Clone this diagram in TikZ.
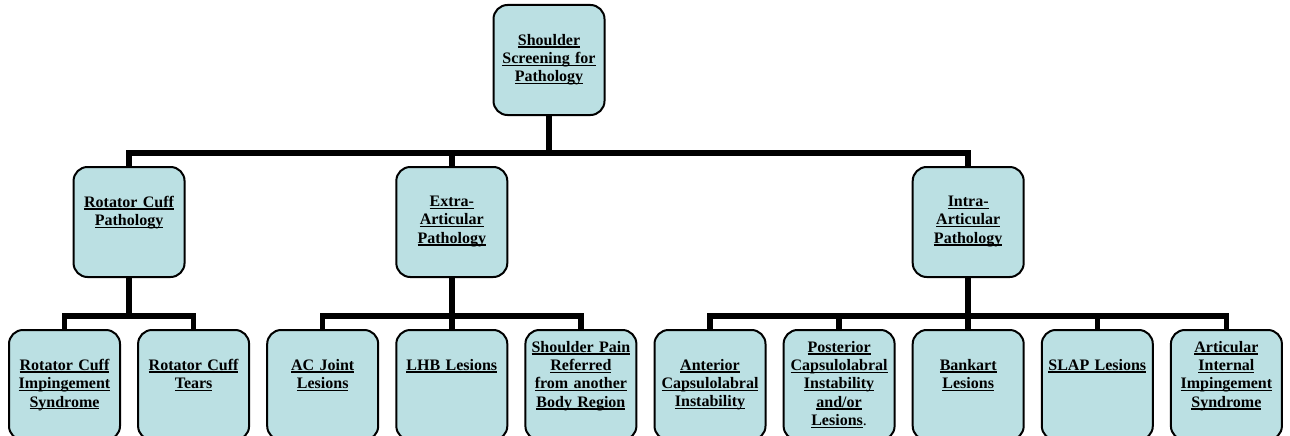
\documentclass[tikz,border=0pt]{standalone}
\usepackage{fontspec}
\setmainfont{Liberation Serif}
\definecolor{boxfill}{RGB}{187,224,227}
\newcommand\ulx[1]{\leavevmode\setbox0\hbox{#1}\rlap{\rule[-2.4pt]{\wd0}{1.4pt}}\box0}
\tikzset{
  box/.style={draw=black, line width=2pt, fill=boxfill, rounded corners=14pt,
    minimum width=111pt, minimum height=110pt, inner sep=0pt},
  lbl/.style={anchor=north, align=center, inner sep=0pt, text width=110pt,
    font=\bfseries\fontsize{16}{18.3}\selectfont},
  conn/.style={line width=5.5pt, line join=miter}
}
\begin{document}
\begin{tikzpicture}[x=1pt,y=-1pt]
\clip (0,0) rectangle (1290,436);
\fill[white] (0,0) rectangle (1290,436);
% boxes
\node[box] (top) at (549,60) {};
\node[box] (rc) at (129.05,222) {};
\node[box] (ea) at (451.8,222) {};
\node[box] (ia) at (968.2,222) {};
\node[box] (b1) at (64.5,385) {};
\node[box] (b2) at (193.6,385) {};
\node[box] (b3) at (322.7,385) {};
\node[box] (b4) at (451.8,385) {};
\node[box] (b5) at (580.9,385) {};
\node[box] (b6) at (710,385) {};
\node[box] (b7) at (839.1,385) {};
\node[box] (b8) at (968.2,385) {};
\node[box] (b9) at (1097.3,385) {};
\node[box] (b10) at (1226.4,385) {};
% bus coordinates
\coordinate (j0) at (549,153);
\coordinate (j1) at (129.05,316);
\coordinate (j2) at (451.8,316);
\coordinate (j3) at (968.2,316);
% connectors
\draw[conn] (top.south) -- (j0);
\draw[conn] (rc.north) |- (j0);
\draw[conn] (ia.north) |- (j0);
\draw[conn] (ea.north) -- (ea.north |- j0);
\draw[conn] (rc.south) -- (j1);
\draw[conn] (b1.north) |- (j1);
\draw[conn] (b2.north) |- (j1);
\draw[conn] (ea.south) -- (j2);
\draw[conn] (b3.north) |- (j2);
\draw[conn] (b5.north) |- (j2);
\draw[conn] (b4.north) -- (j2);
\draw[conn] (ia.south) -- (j3);
\draw[conn] (b6.north) |- (j3);
\draw[conn] (b10.north) |- (j3);
\draw[conn] (b7.north) -- (b7.north |- j3);
\draw[conn] (b8.north) -- (j3);
\draw[conn] (b9.north) -- (b9.north |- j3);
% labels
\node[lbl] (ttop) at (549,34) {\ulx{Shoulder}\\\ulx{Screening for}\\\ulx{Pathology}};
\node[lbl] (trc) at (129.05,196) {\ulx{Rotator Cuff}\\\ulx{Pathology}};
\node[lbl] (tea) at (451.8,196) {\ulx{Extra-}\\\ulx{Articular}\\\ulx{Pathology}};
\node[lbl] (tia) at (968.2,196) {\ulx{Intra-}\\\ulx{Articular}\\\ulx{Pathology}};
\node[lbl] (t1) at (64.5,359) {\ulx{Rotator Cuff}\\\ulx{Impingement}\\\ulx{Syndrome}};
\node[lbl] (t2) at (193.6,359) {\ulx{Rotator Cuff}\\\ulx{Tears}};
\node[lbl] (t3) at (322.7,359) {\ulx{AC Joint}\\\ulx{Lesions}};
\node[lbl] (t4) at (451.8,359) {\ulx{LHB Lesions}};
\node[lbl] (t5) at (580.9,341) {\ulx{Shoulder Pain}\\\ulx{Referred}\\\ulx{from another}\\\ulx{Body Region}};
\node[lbl] (t6) at (710,359) {\ulx{Anterior}\\\ulx{Capsulolabral}\\\ulx{Instability}};
\node[lbl] (t7) at (839.1,341) {\ulx{Posterior}\\\ulx{Capsulolabral}\\\ulx{Instability}\\\ulx{and/or}\\\ulx{Lesions}{\mdseries.}};
\node[lbl] (t8) at (968.2,359) {\ulx{Bankart}\\\ulx{Lesions}};
\node[lbl] (t9) at (1097.3,359) {\ulx{SLAP Lesions}};
\node[lbl] (t10) at (1226.4,341) {\ulx{Articular}\\\ulx{Internal}\\\ulx{Impingement}\\\ulx{Syndrome}};
\end{tikzpicture}
\end{document}
